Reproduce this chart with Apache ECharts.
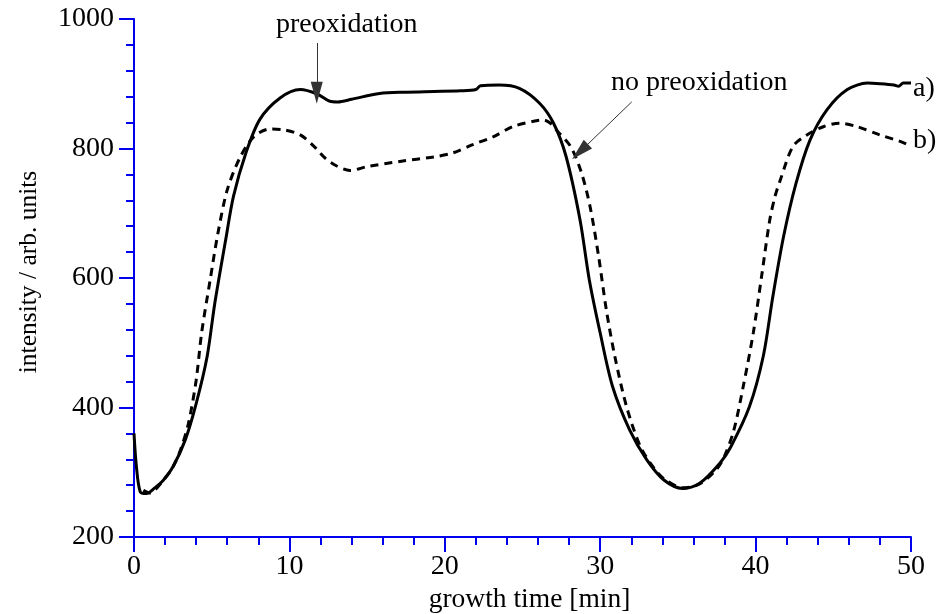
<!DOCTYPE html>
<html>
<head>
<meta charset="utf-8">
<script src="https://cdn.jsdelivr.net/npm/echarts@6/dist/echarts.min.js"></script>
<style>
html, body { margin: 0; padding: 0; background: #fff; }
#chart { width: 940px; height: 614px; }
</style>
</head>
<body>
<div id="chart"></div>
<script>
// a) with preoxidation (solid)
var timeA = [0, 0.15, 0.4, 0.8, 1.3, 1.9, 2.5, 3.3, 4.0, 4.7, 5.2, 5.9, 6.4, 7.2, 8.1, 9.4, 10.7, 11.8, 12.6, 13.1, 14.0, 15.8, 17.5, 19.3, 21.0, 22.0, 22.3, 23.5, 24.8, 26.1, 27.0, 27.8, 28.7, 29.3, 30.0, 30.8, 31.9, 33.0, 34.1, 35.3, 36.4, 37.7, 38.4, 39.6, 40.5, 41.1, 41.8, 42.6, 43.5, 44.6, 45.9, 47.2, 48.0, 48.9, 49.2, 49.5, 50];
var intensityA = [360, 310, 270, 267, 275, 288, 308, 350, 406, 478, 561, 659, 726, 793, 845, 878, 891, 884, 873, 872, 876, 885, 887, 888, 889, 891, 897, 898, 893, 870, 839, 788, 690, 597, 515, 432, 365, 319, 288, 275, 283, 314, 339, 401, 480, 570, 664, 746, 813, 860, 891, 901, 900, 898, 896, 901, 901];

// b) no preoxidation (dashed)
var timeB = [0.6, 1.0, 1.9, 2.5, 3.0, 3.5, 4.0, 4.35, 4.9, 5.4, 6.0, 6.8, 7.7, 8.75, 9.6, 10.7, 11.6, 12.3, 13.05, 13.9, 15.0, 17.1, 19.3, 20.5, 21.8, 23.1, 24.4, 25.7, 26.35, 26.8, 27.2, 28.1, 28.8, 29.35, 29.9, 30.4, 30.95, 31.7, 32.6, 33.5, 34.1, 35.3, 36.4, 37.5, 38.0, 38.6, 39.2, 39.85, 40.4, 40.9, 41.25, 41.6, 42.4, 43.3, 44.4, 45.4, 46.5, 48.0, 49.3, 50];
var intensityB = [272, 268, 288, 308, 335, 375, 442, 515, 597, 669, 736, 785, 818, 830, 829, 821, 803, 785, 773, 766, 772, 780, 787, 793, 806, 818, 834, 842, 844, 839, 828, 803, 762, 710, 633, 550, 478, 401, 339, 305, 290, 276, 282, 305, 325, 365, 432, 515, 605, 688, 726, 752, 803, 821, 834, 839, 834, 821, 811, 804];

// annotation arrows: [time, intensity] from -> to
var arrowPre = [[11.76, 963], [11.76, 886]];
var arrowNoPre = [[32.03, 872], [28.7, 795]];

var serif = "Liberation Serif";
var axisBlue = "#0000ee";

function pairs(xs, ys) {
    return xs.map(function (x, i) { return [x, ys[i]]; });
}

var chart = echarts.init(document.getElementById("chart"), null, { renderer: "canvas" });

chart.setOption({
    animation: false,
    grid: { left: 134, right: 29, top: 19, bottom: 77, outerBoundsMode: "none", containLabel: false },
    xAxis: {
        type: "value",
        min: 0, max: 50, interval: 10,
        name: "growth time [min]",
        nameLocation: "middle",
        nameGap: 46,
        nameTextStyle: { fontFamily: serif, fontSize: 27.5, color: "#000", padding: [0, 0, 0, 14] },
        axisLine: { lineStyle: { color: axisBlue, width: 2 } },
        axisTick: { inside: false, length: 15, lineStyle: { color: axisBlue, width: 2 } },
        minorTick: { show: true, splitNumber: 5, length: 8, lineStyle: { color: axisBlue, width: 2 } },
        axisLabel: { fontFamily: serif, fontSize: 28, color: "#000", margin: 16 },
        splitLine: { show: false }
    },
    yAxis: {
        type: "value",
        min: 200, max: 1000, interval: 200,
        name: "intensity / arb. units",
        nameLocation: "middle",
        nameGap: 92,
        nameTextStyle: { fontFamily: serif, fontSize: 25.5, color: "#000", padding: [0, 0, 0, 12] },
        axisLine: { lineStyle: { color: axisBlue, width: 2 } },
        axisTick: { inside: false, length: 15, lineStyle: { color: axisBlue, width: 2 } },
        minorTick: { show: true, splitNumber: 5, length: 8, lineStyle: { color: axisBlue, width: 2 } },
        axisLabel: {
            fontFamily: serif, fontSize: 28, color: "#000", margin: 20,
            formatter: function (v) { return String(v); }
        },
        splitLine: { show: false }
    },
    series: [
        {
            name: "a)",
            type: "line",
            data: pairs(timeA, intensityA),
            smooth: 0.3,
            showSymbol: false,
            lineStyle: { color: "#000", width: 3 },
            endLabel: {
                show: true, formatter: "a)", distance: 2, offset: [0, 6],
                fontFamily: serif, fontSize: 28, color: "#000"
            },
            markLine: {
                silent: true,
                symbol: ["none", "triangle"],
                symbolSize: [12, 22],
                lineStyle: { color: "#333", width: 1, type: "solid" },
                label: { show: false },
                data: [[{ coord: arrowPre[0] }, { coord: arrowPre[1] }]]
            }
        },
        {
            name: "b)",
            type: "line",
            data: pairs(timeB, intensityB),
            smooth: 0.3,
            showSymbol: false,
            lineStyle: { color: "#000", width: 3, type: [8, 6] },
            endLabel: {
                show: true, formatter: "b)", distance: 2, offset: [0, -5],
                fontFamily: serif, fontSize: 28, color: "#000"
            },
            markLine: {
                silent: true,
                symbol: ["none", "triangle"],
                symbolSize: [12, 22],
                lineStyle: { color: "#333", width: 1, type: "solid" },
                label: { show: false },
                data: [[{ coord: arrowNoPre[0] }, { coord: arrowNoPre[1] }]]
            }
        }
    ],
    graphic: [
        {
            type: "text",
            style: { x: 276, y: 25, verticalAlign: "middle", text: "preoxidation", font: "28px 'Liberation Serif'", fill: "#000" }
        },
        {
            type: "text",
            style: { x: 611, y: 83, verticalAlign: "middle", text: "no preoxidation", font: "28px 'Liberation Serif'", fill: "#000" }
        }
    ]
});

window.addEventListener("resize", function () {
    chart.resize();
});
</script>
</body>
</html>
